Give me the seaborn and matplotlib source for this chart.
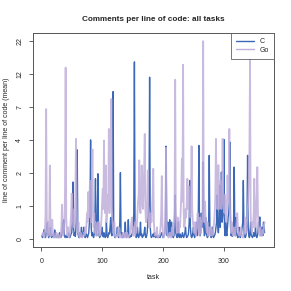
import numpy as np
import pandas as pd
import matplotlib
matplotlib.use("Agg")
import matplotlib.pyplot as plt
from matplotlib.lines import Line2D
import seaborn as sns

c_values = [
    0.05,0.02,0.08,0.1,0.16,0.05,0.02,0.1,0.2,0.3,0.08,0.02,0.05,0.1,0.2,0.05,0.02,0.04,0.08,0.05,
    0.02,0.15,0.05,0.03,0.02,0.06,0.04,0.02,0.05,0.1,0.03,0.02,0.05,0.08,0.3,0.1,0.35,0.05,0.02,0.04,
    0.06,0.02,0.03,0.05,0.1,0.04,0.02,0.05,0.08,0.1,0.3,1.45,0.2,0.05,0.1,0.04,0.2,0.5,3.07,0.1,
    0.05,0.02,0.1,0.04,0.05,0.2,0.03,0.05,0.1,0.2,0.05,0.02,0.04,0.08,0.05,0.02,0.06,0.1,0.3,0.5,
    3.76,0.2,0.05,0.1,0.04,0.02,0.08,0.3,1.58,0.1,0.05,0.4,1.79,0.2,0.05,0.02,0.04,0.06,0.1,0.2,
    0.05,0.03,0.1,0.05,0.02,0.04,0.3,0.06,0.02,0.05,0.1,0.08,0.2,0.4,0.1,0.05,0.6,9.2,0.2,0.05,
    0.02,0.04,0.05,0.08,0.2,0.05,0.02,0.1,0.3,1.84,0.1,0.03,0.1,0.02,0.05,0.04,0.1,0.3,0.05,0.02,
    0.04,0.1,0.35,0.05,0.02,0.03,0.05,0.04,0.08,0.1,0.2,0.5,15.3,0.3,0.05,0.02,0.04,0.2,0.05,0.02,
    0.06,0.1,0.3,0.05,0.08,0.02,0.04,0.05,0.1,0.2,0.05,0.02,0.04,0.1,0.3,0.5,0.8,11.8,0.2,0.05,
    0.02,0.04,0.05,0.08,0.03,0.1,0.05,0.02,0.04,0.06,0.02,0.03,0.05,0.04,0.02,0.05,0.08,0.1,0.05,0.02,
    0.04,0.06,0.1,0.3,3.31,0.2,0.05,0.3,0.1,0.05,0.35,0.1,0.05,0.3,0.08,0.04,0.02,0.05,0.2,0.99,
    0.1,0.05,0.02,0.04,0.3,0.05,0.02,0.08,0.04,0.02,0.05,0.1,0.04,0.02,0.06,0.1,0.2,0.05,0.02,0.04,
    0.05,0.1,0.3,1.51,0.2,0.05,0.02,0.04,0.1,0.2,0.05,0.02,0.06,0.1,0.3,0.05,0.1,0.4,3.36,0.2,
    0.05,0.1,0.5,0.2,0.3,2.36,0.2,0.05,0.1,0.4,0.1,0.05,0.02,0.04,0.3,2.73,0.2,0.05,0.02,0.04,
    0.2,0.05,0.02,0.04,0.06,0.1,0.2,0.3,0.99,0.2,0.1,0.3,1.33,0.2,0.5,1.87,0.3,0.4,0.6,3.8,
    0.2,0.05,0.3,0.1,0.05,0.2,0.4,0.5,0.8,3.6,0.2,0.05,0.1,0.04,0.1,0.3,2.1,0.2,0.05,0.4,
    0.1,0.05,0.02,0.04,0.2,0.05,0.02,0.06,0.1,0.2,0.3,1.51,0.1,0.05,0.02,0.04,0.1,0.3,2.73,0.2,
    0.05,0.02,0.1,0.3,0.05,0.04,0.02,0.05,0.1,0.04,0.05,0.2,0.05,0.02,0.04,0.1,0.3,0.2,0.41,0.1,
    0.05,0.2,0.1,0.05,0.3,0.2,0.1,
]

go_values = [
    0.05,0.08,0.1,0.05,0.02,0.1,0.5,6.75,0.4,0.1,0.3,0.05,0.2,2.18,0.3,0.05,0.1,0.35,0.05,0.1,
    0.02,0.05,0.04,0.02,0.1,0.05,0.02,0.04,0.06,0.02,0.03,0.05,0.2,0.71,0.2,0.05,0.1,0.3,1.2,13.9,
    0.4,0.1,0.05,0.2,0.05,0.02,0.1,0.3,0.5,1.04,0.3,0.4,0.2,0.6,0.3,1.0,3.84,0.8,0.2,0.1,
    0.3,0.05,0.02,0.04,0.1,0.05,0.02,0.04,0.05,0.1,0.05,0.2,0.1,0.2,0.5,0.3,1.09,0.4,0.8,1.5,
    0.5,0.3,1.0,3.1,0.6,0.2,0.5,0.1,0.3,0.05,0.1,0.2,0.3,0.1,0.3,0.05,0.1,0.2,0.4,0.8,
    1.2,0.6,3.72,0.8,0.5,2.18,0.3,0.5,1.0,0.6,4.66,0.5,1.0,2.0,8.08,0.6,0.3,0.2,0.1,0.3,
    0.05,0.02,0.04,0.06,0.05,0.1,0.2,0.05,0.02,0.04,0.05,0.02,0.04,0.1,0.05,0.02,0.03,0.1,0.05,0.02,
    0.1,0.05,0.02,0.04,0.06,0.1,0.2,0.3,0.4,0.1,0.05,0.2,0.1,0.05,0.3,0.1,0.2,0.5,0.8,1.0,
    2.45,0.6,0.5,1.0,2.18,0.8,0.6,1.2,2.0,4.23,0.6,0.3,0.5,0.8,1.94,0.4,0.2,0.3,0.2,0.5,
    0.3,0.6,1.0,2.02,0.3,0.1,0.05,0.1,0.05,0.2,0.05,0.02,0.04,0.05,0.1,0.2,0.5,1.69,0.3,0.05,
    0.02,0.04,0.1,0.5,3.2,0.3,0.1,0.05,0.02,0.04,0.1,0.05,0.02,0.1,0.2,0.05,0.1,0.3,0.6,11.3,
    0.5,0.2,0.1,0.4,0.2,0.1,0.3,0.2,0.5,1.0,2.54,0.8,14.6,0.5,0.2,0.3,0.6,0.4,0.8,1.58,
    0.6,1.3,0.8,0.6,0.4,1.0,3.31,0.6,0.3,0.2,0.1,0.3,0.1,0.05,0.2,0.3,0.5,0.2,0.1,0.05,
    0.4,0.1,0.2,0.3,0.5,21.6,0.6,0.3,0.8,0.4,0.2,0.1,0.3,0.05,0.1,0.2,0.1,0.05,0.2,0.1,
    0.05,0.1,0.2,0.3,0.5,1.0,3.84,1.2,0.6,0.8,2.2,0.6,1.0,1.5,0.8,0.6,1.2,3.84,0.8,0.6,
    0.5,1.0,0.4,0.3,0.6,1.72,1.0,0.8,4.66,0.6,0.3,0.1,0.3,0.1,0.05,0.2,0.1,0.05,0.1,0.2,
    0.3,0.5,0.2,0.1,0.05,0.1,0.05,0.2,0.1,0.05,0.02,0.04,0.1,0.2,0.4,0.2,0.1,0.3,0.5,0.8,
    1.5,3.0,16.0,0.5,0.2,0.1,0.3,0.2,0.5,1.58,0.4,0.2,0.5,1.0,2.1,0.5,0.2,0.1,0.05,0.2,
    0.1,0.05,0.1,0.15,0.1,0.25,0.3,
]

languages = ["C", "Go"]
x_ticks = [0, 100, 200, 300]
title = "Comments per line of code: all tasks"
x_label = "task"
y_label = "line of comment per line of code (mean)"

tasks = np.arange(1, len(c_values) + 1)
df = pd.DataFrame({
    "task": np.concatenate([tasks, tasks]),
    "value": np.concatenate([c_values, go_values]),
    "lang": [languages[0]] * len(c_values) + [languages[1]] * len(go_values),
})

sns.set_style("white")
plt.rcParams["font.family"] = ["Liberation Sans", "DejaVu Sans"]

colors = {"C": "#3A67B8", "Go": "#C0AEDB"}

fig = plt.figure(figsize=(2.91, 2.91), dpi=100)
ax = fig.add_axes([0.1134, 0.1522, 0.8266, 0.7334])

sns.lineplot(data=df[df.lang == "C"], x="task", y="value", color=colors["C"],
             linewidth=1.0, ax=ax, legend=False)
sns.lineplot(data=df[df.lang == "Go"], x="task", y="value", color=colors["Go"],
             linewidth=1.3, alpha=0.85, ax=ax, legend=False)

ax.set_yscale("function", functions=(np.log1p, np.expm1))
ymax = max(max(c_values), max(go_values))
L = np.log1p(ymax)
ax.set_ylim(np.expm1(-0.04 * L), np.expm1(1.04 * L))
yt = np.expm1(np.linspace(0, L, 7))
ax.set_yticks(yt)
ax.set_yticklabels([str(int(round(v))) for v in yt], rotation=90, va="center")
ax.yaxis.set_minor_locator(matplotlib.ticker.NullLocator())

n = len(tasks)
xpad = 0.04 * (n - 1)
ax.set_xlim(1 - xpad, n + xpad)
ax.set_xticks(x_ticks)

ax.tick_params(axis="both", which="major", length=3, width=0.6, color="#444444",
               labelsize=5.0, direction="out", left=True, bottom=True)
ax.tick_params(axis="x", pad=5)
ax.tick_params(axis="y", pad=4)
for s in ax.spines.values():
    s.set_color("#555555")
    s.set_linewidth(0.7)

ax.set_xlabel(x_label, fontsize=5.0, labelpad=6.5)
ax.set_ylabel(y_label, fontsize=5.0, labelpad=4.3)
ax.set_title(title, fontsize=5.9, fontweight="bold", pad=9)

handles = [Line2D([], [], color=colors[l], linewidth=1.0) for l in languages]
leg = ax.legend(handles, languages, loc="upper right", fontsize=5.0, frameon=True,
                fancybox=False, borderaxespad=0, handlelength=2.6, handletextpad=0.8,
                borderpad=0.7, labelspacing=0.25)
leg.get_frame().set_edgecolor("#555555")
leg.get_frame().set_linewidth(0.7)

fig.savefig("out.png", dpi=100)
